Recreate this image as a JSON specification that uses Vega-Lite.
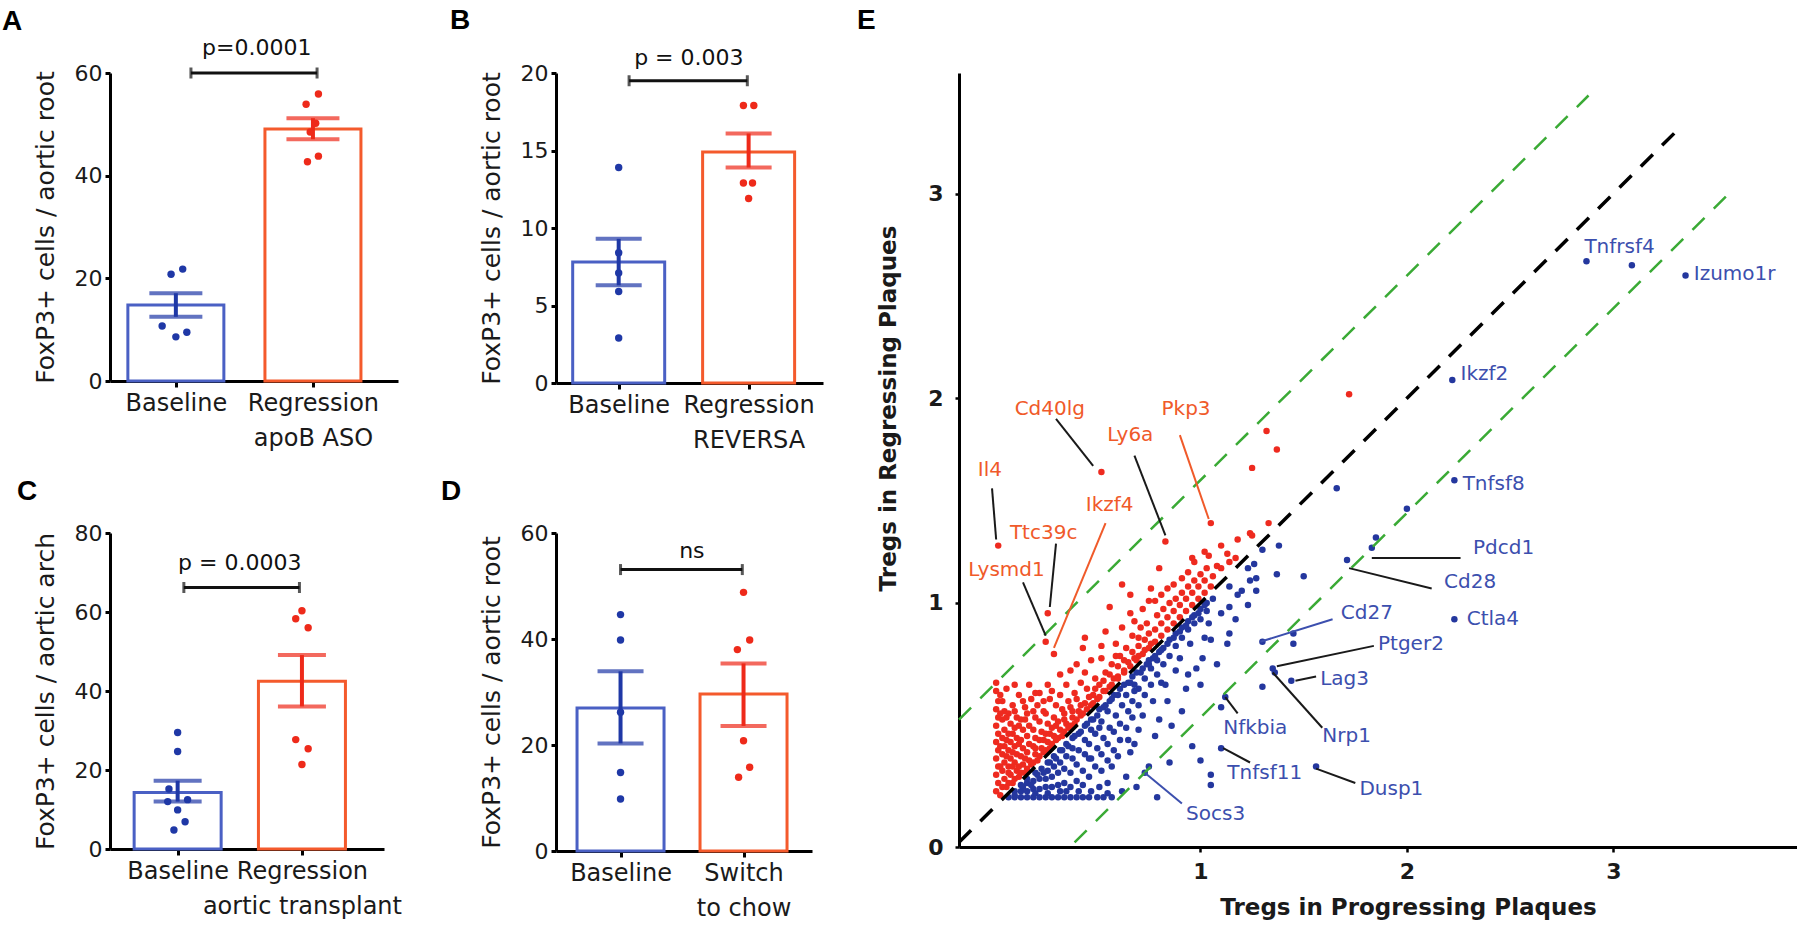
{
"$schema":"https://vega.github.io/schema/vega-lite/v6.json",
"background":"#ffffff",
"padding":{"left":2,"top":6,"right":0,"bottom":0},
"config":{
 "view":{"stroke":null},
 "font":"DejaVu Sans",
 "text":{"font":"DejaVu Sans"},
 "title":{"font":"Liberation Sans","fontSize":28,"fontWeight":"bold","anchor":"start","frame":"group","baseline":"bottom","color":"#000000"},
 "axis":{"domainColor":"#000000","domainWidth":3,"tickColor":"#000000","tickWidth":3,"grid":false,"labelColor":"#1a1a1a","titleColor":"#1a1a1a","labelFont":"DejaVu Sans","titleFont":"DejaVu Sans","titleFontWeight":"normal","labelFontSize":22,"titleFontSize":25},
 "axisX":{"labelFontSize":24,"labelLineHeight":35,"tickSize":6,"labelPadding":4,"labelFlush":false,"labelOverlap":false,"labelBound":false,"labelLimit":0},
 "axisY":{"tickSize":5,"labelPadding":3,"titlePadding":16}
},
"datasets":{
 "red":[{"x":0.01,"y":0.08},{"x":0.02,"y":0.12},{"x":0.01,"y":0.16},{"x":0.02,"y":0.2},{"x":0.01,"y":0.24},{"x":0.02,"y":0.28},{"x":0.01,"y":0.32},{"x":0.02,"y":0.36},{"x":0.01,"y":0.4},{"x":0.02,"y":0.44},{"x":0.01,"y":0.48},{"x":0.02,"y":0.52},{"x":0.01,"y":0.57},{"x":0.01,"y":0.61},
 {"x":0.04,"y":0.1},{"x":0.05,"y":0.14},{"x":0.04,"y":0.18},{"x":0.05,"y":0.22},{"x":0.04,"y":0.26},{"x":0.05,"y":0.3},{"x":0.04,"y":0.34},{"x":0.05,"y":0.38},{"x":0.04,"y":0.43},{"x":0.05,"y":0.47},{"x":0.04,"y":0.52},{"x":0.06,"y":0.58},
 {"x":0.07,"y":0.12},{"x":0.08,"y":0.16},{"x":0.07,"y":0.2},{"x":0.08,"y":0.24},{"x":0.07,"y":0.28},{"x":0.08,"y":0.32},{"x":0.07,"y":0.36},{"x":0.08,"y":0.41},{"x":0.07,"y":0.46},{"x":0.09,"y":0.5},
 {"x":0.1,"y":0.14},{"x":0.11,"y":0.18},{"x":0.1,"y":0.22},{"x":0.11,"y":0.26},{"x":0.1,"y":0.3},{"x":0.11,"y":0.34},{"x":0.1,"y":0.39},{"x":0.11,"y":0.44},{"x":0.12,"y":0.55},{"x":0.1,"y":0.6},
 {"x":0.13,"y":0.17},{"x":0.14,"y":0.21},{"x":0.13,"y":0.25},{"x":0.14,"y":0.29},{"x":0.13,"y":0.33},{"x":0.14,"y":0.38},{"x":0.13,"y":0.43},{"x":0.15,"y":0.49},
 {"x":0.16,"y":0.19},{"x":0.17,"y":0.23},{"x":0.16,"y":0.27},{"x":0.17,"y":0.31},{"x":0.16,"y":0.35},{"x":0.17,"y":0.4},{"x":0.16,"y":0.46},{"x":0.18,"y":0.53},{"x":0.17,"y":0.6},
 {"x":0.19,"y":0.22},{"x":0.2,"y":0.26},{"x":0.19,"y":0.3},{"x":0.2,"y":0.34},{"x":0.19,"y":0.38},{"x":0.2,"y":0.44},{"x":0.21,"y":0.5},
 {"x":0.22,"y":0.25},{"x":0.23,"y":0.29},{"x":0.22,"y":0.33},{"x":0.23,"y":0.37},{"x":0.22,"y":0.42},{"x":0.24,"y":0.47},{"x":0.22,"y":0.56},
 {"x":0.25,"y":0.28},{"x":0.26,"y":0.32},{"x":0.25,"y":0.36},{"x":0.26,"y":0.41},{"x":0.25,"y":0.46},{"x":0.27,"y":0.53},{"x":0.26,"y":0.6},
 {"x":0.28,"y":0.31},{"x":0.29,"y":0.35},{"x":0.28,"y":0.39},{"x":0.29,"y":0.44},{"x":0.3,"y":0.5},{"x":0.28,"y":0.57},
 {"x":0.31,"y":0.34},{"x":0.32,"y":0.38},{"x":0.31,"y":0.42},{"x":0.33,"y":0.48},{"x":0.32,"y":0.55},{"x":0.32,"y":0.65},
 {"x":0.34,"y":0.37},{"x":0.35,"y":0.41},{"x":0.34,"y":0.46},{"x":0.36,"y":0.52},{"x":0.35,"y":0.6},
 {"x":0.37,"y":0.4},{"x":0.38,"y":0.44},{"x":0.37,"y":0.49},{"x":0.39,"y":0.56},{"x":0.37,"y":0.67},
 {"x":0.4,"y":0.43},{"x":0.41,"y":0.47},{"x":0.4,"y":0.53},{"x":0.42,"y":0.61},{"x":0.4,"y":0.7},
 {"x":0.43,"y":0.46},{"x":0.44,"y":0.51},{"x":0.45,"y":0.58},{"x":0.44,"y":0.66},{"x":0.43,"y":0.78},{"x":0.44,"y":0.83},
 {"x":0.47,"y":0.5},{"x":0.48,"y":0.55},{"x":0.49,"y":0.63},{"x":0.47,"y":0.72},
 {"x":0.5,"y":0.53},{"x":0.51,"y":0.6},{"x":0.52,"y":0.73},{"x":0.53,"y":0.57},{"x":0.54,"y":0.66},{"x":0.54,"y":0.86},{"x":0.52,"y":0.79},
 {"x":0.56,"y":0.59},{"x":0.57,"y":0.7},{"x":0.56,"y":0.98},{"x":0.58,"y":0.63},{"x":0.59,"y":0.8},{"x":0.59,"y":0.74},
 {"x":0.6,"y":0.64},{"x":0.61,"y":0.74},{"x":0.62,"y":0.88},{"x":0.62,"y":1.09},{"x":0.63,"y":0.67},{"x":0.64,"y":0.78},{"x":0.65,"y":0.71},{"x":0.66,"y":1.04},{"x":0.66,"y":0.95},{"x":0.67,"y":0.84},{"x":0.68,"y":0.91},{"x":0.68,"y":0.73},
 {"x":0.7,"y":0.74},{"x":0.7,"y":0.79},{"x":0.71,"y":0.88},{"x":0.72,"y":0.97},{"x":0.73,"y":0.77},{"x":0.73,"y":0.82},{"x":0.74,"y":0.9},{"x":0.75,"y":1.01},{"x":0.76,"y":1.07},{"x":0.76,"y":0.8},
 {"x":0.78,"y":0.81},{"x":0.78,"y":0.87},{"x":0.79,"y":0.94},{"x":0.78,"y":1.01},{"x":0.8,"y":1.17},
 {"x":0.81,"y":0.84},{"x":0.81,"y":0.9},{"x":0.82,"y":0.97},{"x":0.81,"y":1.04},
 {"x":0.84,"y":0.87},{"x":0.84,"y":0.93},{"x":0.85,"y":1.0},{"x":0.84,"y":1.07},
 {"x":0.87,"y":0.9},{"x":0.87,"y":0.96},{"x":0.88,"y":1.02},{"x":0.87,"y":1.09},
 {"x":0.9,"y":0.93},{"x":0.9,"y":0.99},{"x":0.91,"y":1.05},{"x":0.91,"y":1.12},
 {"x":0.93,"y":0.96},{"x":0.93,"y":1.02},{"x":0.94,"y":1.08},{"x":0.94,"y":1.15},
 {"x":0.96,"y":0.99},{"x":0.96,"y":1.05},{"x":0.97,"y":1.11},{"x":0.97,"y":1.2},
 {"x":0.99,"y":1.02},{"x":0.99,"y":1.08},{"x":1.0,"y":1.14},
 {"x":1.02,"y":1.05},{"x":1.02,"y":1.11},{"x":1.03,"y":1.17},{"x":1.04,"y":1.23},
 {"x":1.05,"y":1.08},{"x":1.06,"y":1.13},{"x":1.08,"y":1.18},{"x":1.1,"y":1.17},{"x":1.1,"y":1.28},{"x":1.13,"y":1.24},{"x":1.14,"y":1.2},{"x":1.17,"y":1.22},{"x":1.18,"y":1.31},{"x":1.24,"y":1.34},{"x":1.25,"y":1.33},{"x":1.33,"y":1.39},{"x":1.25,"y":1.66},{"x":1.32,"y":1.84},{"x":1.37,"y":1.75},{"x":1.72,"y":2.02},{"x":0.96,"y":1.22},{"x":1.02,"y":1.25},
 {"x":0.06,"y":0.1},{"x":0.09,"y":0.12},{"x":0.12,"y":0.15},{"x":0.15,"y":0.17},{"x":0.18,"y":0.21},{"x":0.21,"y":0.23},{"x":0.24,"y":0.27},{"x":0.27,"y":0.29},{"x":0.3,"y":0.33},{"x":0.33,"y":0.35},{"x":0.36,"y":0.39},{"x":0.39,"y":0.41},{"x":0.42,"y":0.45},{"x":0.45,"y":0.48},{"x":0.48,"y":0.51},{"x":0.51,"y":0.54},{"x":0.54,"y":0.57},{"x":0.57,"y":0.6},{"x":0.6,"y":0.63},{"x":0.63,"y":0.66},{"x":0.66,"y":0.69},{"x":0.69,"y":0.72},{"x":0.72,"y":0.75},{"x":0.75,"y":0.78},
 {"x":0.07,"y":0.17},{"x":0.12,"y":0.2},{"x":0.15,"y":0.24},{"x":0.2,"y":0.29},{"x":0.24,"y":0.33},{"x":0.27,"y":0.36},{"x":0.3,"y":0.4},{"x":0.34,"y":0.43},{"x":0.38,"y":0.47},{"x":0.42,"y":0.5},{"x":0.46,"y":0.54},{"x":0.49,"y":0.58},{"x":0.53,"y":0.62},{"x":0.56,"y":0.65},{"x":0.6,"y":0.69},{"x":0.63,"y":0.72},{"x":0.67,"y":0.76},{"x":0.7,"y":0.83},{"x":0.75,"y":0.85},
 {"x":0.03,"y":0.06},{"x":0.03,"y":0.55},{"x":0.06,"y":0.33},{"x":0.09,"y":0.27},{"x":0.12,"y":0.31},{"x":0.12,"y":0.4},{"x":0.15,"y":0.43},{"x":0.09,"y":0.36},{"x":0.06,"y":0.44},{"x":0.03,"y":0.2},{"x":0.03,"y":0.3},{"x":0.03,"y":0.46},{"x":0.06,"y":0.25},{"x":0.09,"y":0.2},{"x":0.14,"y":0.52},{"x":0.2,"y":0.56},{"x":0.24,"y":0.52},{"x":0.19,"y":0.47},{"x":0.1,"y":0.47},
 {"x":0.02,"y":1.28},{"x":0.52,"y":1.64},{"x":0.26,"y":0.95},{"x":0.25,"y":0.81},{"x":0.29,"y":0.75},{"x":0.83,"y":1.3},{"x":1.05,"y":1.39}],
 "blue":[{"x":0.07,"y":0.05},{"x":0.1,"y":0.05},{"x":0.13,"y":0.05},{"x":0.16,"y":0.05},{"x":0.19,"y":0.05},{"x":0.22,"y":0.05},{"x":0.25,"y":0.05},{"x":0.28,"y":0.05},{"x":0.31,"y":0.05},{"x":0.34,"y":0.05},{"x":0.37,"y":0.05},{"x":0.4,"y":0.05},{"x":0.43,"y":0.05},{"x":0.46,"y":0.05},{"x":0.5,"y":0.05},{"x":0.53,"y":0.05},{"x":0.57,"y":0.05},{"x":0.79,"y":0.05},
 {"x":0.1,"y":0.08},{"x":0.13,"y":0.08},{"x":0.13,"y":0.11},{"x":0.16,"y":0.08},{"x":0.16,"y":0.12},{"x":0.16,"y":0.14},{"x":0.19,"y":0.09},{"x":0.19,"y":0.13},{"x":0.2,"y":0.17},{"x":0.22,"y":0.09},{"x":0.22,"y":0.14},{"x":0.23,"y":0.19},{"x":0.25,"y":0.1},{"x":0.25,"y":0.14},{"x":0.26,"y":0.18},{"x":0.26,"y":0.22},{"x":0.28,"y":0.1},{"x":0.28,"y":0.15},{"x":0.29,"y":0.2},{"x":0.29,"y":0.25},{"x":0.31,"y":0.11},{"x":0.31,"y":0.17},{"x":0.32,"y":0.22},{"x":0.32,"y":0.28},{"x":0.34,"y":0.12},{"x":0.34,"y":0.19},{"x":0.35,"y":0.25},{"x":0.35,"y":0.31},{"x":0.37,"y":0.1},{"x":0.37,"y":0.17},{"x":0.38,"y":0.24},{"x":0.38,"y":0.29},{"x":0.38,"y":0.34},{"x":0.4,"y":0.13},{"x":0.4,"y":0.21},{"x":0.41,"y":0.28},{"x":0.41,"y":0.36},{"x":0.43,"y":0.11},{"x":0.43,"y":0.18},{"x":0.44,"y":0.26},{"x":0.44,"y":0.33},{"x":0.44,"y":0.4},{"x":0.46,"y":0.15},{"x":0.47,"y":0.24},{"x":0.46,"y":0.31},{"x":0.47,"y":0.38},{"x":0.47,"y":0.43},{"x":0.49,"y":0.2},{"x":0.5,"y":0.29},{"x":0.49,"y":0.36},{"x":0.5,"y":0.45},{"x":0.52,"y":0.18},{"x":0.52,"y":0.26},{"x":0.53,"y":0.34},{"x":0.52,"y":0.42},{"x":0.53,"y":0.49},{"x":0.55,"y":0.23},{"x":0.55,"y":0.31},{"x":0.56,"y":0.39},{"x":0.55,"y":0.47},{"x":0.56,"y":0.52},{"x":0.58,"y":0.28},{"x":0.58,"y":0.37},{"x":0.59,"y":0.45},{"x":0.58,"y":0.55},{"x":0.61,"y":0.33},{"x":0.61,"y":0.41},{"x":0.62,"y":0.5},{"x":0.61,"y":0.58},{"x":0.64,"y":0.15},{"x":0.64,"y":0.39},{"x":0.65,"y":0.47},{"x":0.64,"y":0.55},{"x":0.65,"y":0.61},{"x":0.67,"y":0.44},{"x":0.67,"y":0.52},{"x":0.68,"y":0.6},{"x":0.67,"y":0.64},{"x":0.7,"y":0.5},{"x":0.7,"y":0.58},{"x":0.71,"y":0.66},{"x":0.73,"y":0.55},{"x":0.73,"y":0.63},{"x":0.74,"y":0.7},{"x":0.76,"y":0.6},{"x":0.76,"y":0.68},{"x":0.77,"y":0.73},{"x":0.79,"y":0.65},{"x":0.79,"y":0.72},{"x":0.8,"y":0.76},{"x":0.82,"y":0.7},{"x":0.82,"y":0.78},{"x":0.85,"y":0.74},{"x":0.85,"y":0.82},{"x":0.88,"y":0.79},{"x":0.88,"y":0.85},{"x":0.91,"y":0.83},{"x":0.91,"y":0.88},{"x":0.94,"y":0.87},{"x":0.94,"y":0.91},{"x":0.97,"y":0.9},{"x":0.97,"y":0.94},{"x":1.0,"y":0.92},{"x":1.0,"y":0.97},{"x":1.03,"y":0.96},{"x":1.03,"y":1.0},{"x":1.06,"y":1.02},
 {"x":0.1,"y":0.06},{"x":0.14,"y":0.1},{"x":0.18,"y":0.11},{"x":0.21,"y":0.16},{"x":0.24,"y":0.17},{"x":0.27,"y":0.22},{"x":0.3,"y":0.24},{"x":0.33,"y":0.28},{"x":0.36,"y":0.3},{"x":0.39,"y":0.35},{"x":0.42,"y":0.37},{"x":0.45,"y":0.41},{"x":0.48,"y":0.43},{"x":0.51,"y":0.48},{"x":0.54,"y":0.5},{"x":0.57,"y":0.53},{"x":0.6,"y":0.55},{"x":0.63,"y":0.6},{"x":0.66,"y":0.61},{"x":0.69,"y":0.66},{"x":0.72,"y":0.68},{"x":0.75,"y":0.72},{"x":0.78,"y":0.74},{"x":0.81,"y":0.77},{"x":0.84,"y":0.8},{"x":0.87,"y":0.83},{"x":0.9,"y":0.86},{"x":0.93,"y":0.89},{"x":0.96,"y":0.93},{"x":0.99,"y":0.95},{"x":1.02,"y":0.99},
 {"x":0.2,"y":0.07},{"x":0.26,"y":0.07},{"x":0.32,"y":0.08},{"x":0.35,"y":0.08},{"x":0.41,"y":0.08},{"x":0.47,"y":0.08},{"x":0.55,"y":0.07},
 {"x":0.51,"y":0.39},{"x":0.57,"y":0.2},{"x":0.46,"y":0.24},{"x":0.68,"y":0.31},{"x":0.51,"y":0.1},{"x":0.55,"y":0.12},{"x":0.6,"y":0.25},{"x":0.62,"y":0.08},{"x":0.65,"y":0.33},{"x":0.66,"y":0.27},{"x":0.68,"y":0.57},{"x":0.69,"y":0.1},{"x":0.7,"y":0.38},{"x":0.72,"y":0.45},{"x":0.73,"y":0.17},{"x":0.75,"y":0.2},{"x":0.75,"y":0.7},{"x":0.77,"y":0.52},{"x":0.78,"y":0.35},{"x":0.8,"y":0.43},{"x":0.81,"y":0.61},{"x":0.83,"y":0.6},{"x":0.84,"y":0.52},{"x":0.85,"y":0.22},{"x":0.86,"y":0.4},{"x":0.88,"y":0.67},{"x":0.9,"y":0.73},{"x":0.91,"y":0.47},{"x":0.93,"y":0.58},{"x":0.94,"y":0.65},{"x":0.95,"y":0.8},{"x":0.96,"y":0.3},{"x":0.98,"y":0.68},{"x":1.0,"y":0.23},{"x":1.0,"y":0.6},{"x":1.01,"y":0.73},{"x":1.02,"y":0.83},{"x":1.04,"y":0.9},{"x":1.05,"y":0.16},{"x":1.05,"y":0.11},{"x":1.05,"y":0.82},{"x":1.08,"y":0.7},{"x":1.1,"y":0.49},{"x":1.1,"y":0.29},{"x":1.1,"y":0.95},{"x":1.12,"y":0.54},{"x":1.13,"y":0.8},{"x":1.14,"y":0.85},{"x":1.14,"y":0.98},{"x":1.14,"y":1.08},{"x":1.17,"y":0.92},{"x":1.18,"y":1.04},{"x":1.2,"y":1.06},{"x":1.23,"y":0.99},{"x":1.23,"y":1.17},{"x":1.24,"y":1.11},{"x":1.26,"y":1.19},{"x":1.27,"y":1.06},{"x":1.27,"y":1.12},{"x":1.3,"y":1.26},{"x":1.38,"y":1.28},{"x":1.37,"y":1.14},{"x":1.5,"y":1.13},{"x":1.66,"y":1.56},{"x":1.85,"y":1.32},{"x":1.83,"y":1.27},{"x":1.71,"y":1.21},{"x":2.23,"y":0.92},{"x":2.23,"y":1.6},{"x":2.0,"y":1.46},{"x":1.3,"y":0.81},{"x":1.45,"y":0.85},{"x":1.45,"y":0.8},{"x":1.35,"y":0.68},{"x":1.36,"y":0.66},{"x":1.44,"y":0.62},{"x":1.3,"y":0.59},{"x":1.56,"y":0.2},{"x":2.87,"y":2.67},{"x":3.09,"y":2.65},{"x":3.35,"y":2.6},{"x":2.22,"y":2.09}]
},
"concat":[
 {"concat":[
   {"width":288,"height":308,
    "title":{"text":"A","dx":-108,"offset":1},
    "layer":[
     {"data":{"values":[{"g":"Baseline","x":1,"m":14.8,"lo":12.5,"hi":17.1},{"g":"Regression","x":2,"m":49.1,"lo":47.1,"hi":51.2}]},
      "layer":[
       {"mark":{"type":"bar","width":96,"fill":"#ffffff","strokeWidth":3,"orient":"vertical"},
        "encoding":{"x":{"field":"x","type":"quantitative","title":null,"scale":{"domain":[0.556,2.584],"nice":false,"zero":false},"axis":{"values":[1,2],"labelExpr":"datum.value == 1 ? 'Baseline' : ['Regression', 'apoB ASO']"}},
         "y":{"field":"m","type":"quantitative","stack":null,"title":"FoxP3+ cells / aortic root","scale":{"domain":[0,60],"nice":false},"axis":{"values":[0,20,40,60]}},
         "stroke":{"field":"g","type":"nominal","legend":null,"scale":{"domain":["Baseline","Regression"],"range":["#4a60c4","#f45a2c"]}}}},
       {"mark":{"type":"rule","strokeWidth":4},
        "encoding":{"x":{"field":"x","type":"quantitative","title":null},"y":{"field":"lo","type":"quantitative","title":"FoxP3+ cells / aortic root"},"y2":{"field":"hi"},
         "color":{"field":"g","type":"nominal","legend":null,"scale":{"domain":["Baseline","Regression"],"range":["#1f38a6","#ee2a1a"]}}}},
       {"mark":{"type":"tick","orient":"horizontal","size":53,"thickness":4},
        "encoding":{"x":{"field":"x","type":"quantitative","title":null},"y":{"field":"lo","type":"quantitative","title":"FoxP3+ cells / aortic root"},"color":{"field":"g","type":"nominal","legend":null}}},
       {"mark":{"type":"tick","orient":"horizontal","size":53,"thickness":4},
        "encoding":{"x":{"field":"x","type":"quantitative","title":null},"y":{"field":"hi","type":"quantitative","title":"FoxP3+ cells / aortic root"},"color":{"field":"g","type":"nominal","legend":null}}}
      ]},
     {"data":{"values":[{"g":"Baseline","x":0.965,"v":20.8},{"g":"Baseline","x":1.05,"v":21.8},{"g":"Baseline","x":0.9,"v":10.7},{"g":"Baseline","x":1.08,"v":9.5},{"g":"Baseline","x":1.0,"v":8.6},{"g":"Regression","x":2.04,"v":55.9},{"g":"Regression","x":1.95,"v":53.9},{"g":"Regression","x":2.04,"v":43.8},{"g":"Regression","x":1.96,"v":42.7},{"g":"Regression","x":1.98,"v":48.5},{"g":"Regression","x":2.02,"v":50.2}]},
      "mark":{"type":"circle","size":55,"opacity":1},
      "encoding":{"x":{"field":"x","type":"quantitative","title":null},"y":{"field":"v","type":"quantitative","title":"FoxP3+ cells / aortic root"},"color":{"field":"g","type":"nominal","legend":null}}},
     {"data":{"values":[{"x1":1.11,"x2":2.03,"y":60,"tx":1.59,"ty":64.9,"t":"p=0.0001"}]},
      "layer":[
       {"mark":{"type":"rule","strokeWidth":3,"color":"#111111"},"encoding":{"x":{"field":"x1","type":"quantitative","title":null},"x2":{"field":"x2"},"y":{"field":"y","type":"quantitative","title":"FoxP3+ cells / aortic root"}}},
       {"mark":{"type":"tick","orient":"vertical","size":11,"thickness":3,"color":"#111111"},"encoding":{"x":{"field":"x1","type":"quantitative","title":null},"y":{"field":"y","type":"quantitative","title":"FoxP3+ cells / aortic root"}}},
       {"mark":{"type":"tick","orient":"vertical","size":11,"thickness":3,"color":"#111111"},"encoding":{"x":{"field":"x2","type":"quantitative","title":null},"y":{"field":"y","type":"quantitative","title":"FoxP3+ cells / aortic root"}}},
       {"mark":{"type":"text","fontSize":22,"color":"#111111","baseline":"middle"},"encoding":{"x":{"field":"tx","type":"quantitative","title":null},"y":{"field":"ty","type":"quantitative","title":"FoxP3+ cells / aortic root"},"text":{"field":"t"}}}
      ]}
    ]},
   {"width":267,"height":310,
    "title":{"text":"B","dx":-106,"offset":12},
    "layer":[
     {"data":{"values":[{"g":"Baseline","x":1,"m":7.8,"lo":6.3,"hi":9.3},{"g":"Regression","x":2,"m":14.9,"lo":13.9,"hi":16.1}]},
      "layer":[
       {"mark":{"type":"bar","width":92,"fill":"#ffffff","strokeWidth":3,"orient":"vertical"},
        "encoding":{"x":{"field":"x","type":"quantitative","title":null,"scale":{"domain":[0.556,2.534],"nice":false,"zero":false},"axis":{"values":[1,2],"labelExpr":"datum.value == 1 ? 'Baseline' : ['Regression', 'REVERSA']"}},
         "y":{"field":"m","type":"quantitative","stack":null,"title":"FoxP3+ cells / aortic root","scale":{"domain":[0,20],"nice":false},"axis":{"values":[0,5,10,15,20]}},
         "stroke":{"field":"g","type":"nominal","legend":null,"scale":{"domain":["Baseline","Regression"],"range":["#4a60c4","#f45a2c"]}}}},
       {"mark":{"type":"rule","strokeWidth":4},
        "encoding":{"x":{"field":"x","type":"quantitative","title":null},"y":{"field":"lo","type":"quantitative","title":"FoxP3+ cells / aortic root"},"y2":{"field":"hi"},
         "color":{"field":"g","type":"nominal","legend":null,"scale":{"domain":["Baseline","Regression"],"range":["#1f38a6","#ee2a1a"]}}}},
       {"mark":{"type":"tick","orient":"horizontal","size":46,"thickness":4},
        "encoding":{"x":{"field":"x","type":"quantitative","title":null},"y":{"field":"lo","type":"quantitative","title":"FoxP3+ cells / aortic root"},"color":{"field":"g","type":"nominal","legend":null}}},
       {"mark":{"type":"tick","orient":"horizontal","size":46,"thickness":4},
        "encoding":{"x":{"field":"x","type":"quantitative","title":null},"y":{"field":"hi","type":"quantitative","title":"FoxP3+ cells / aortic root"},"color":{"field":"g","type":"nominal","legend":null}}}
      ]},
     {"data":{"values":[{"g":"Baseline","x":1,"v":13.9},{"g":"Baseline","x":1,"v":2.9},{"g":"Baseline","x":1,"v":8.4},{"g":"Baseline","x":1,"v":7.1},{"g":"Baseline","x":1,"v":5.9},{"g":"Regression","x":1.96,"v":17.9},{"g":"Regression","x":2.04,"v":17.9},{"g":"Regression","x":1.96,"v":12.9},{"g":"Regression","x":2.03,"v":12.9},{"g":"Regression","x":2.0,"v":11.9}]},
      "mark":{"type":"circle","size":55,"opacity":1},
      "encoding":{"x":{"field":"x","type":"quantitative","title":null},"y":{"field":"v","type":"quantitative","title":"FoxP3+ cells / aortic root"},"color":{"field":"g","type":"nominal","legend":null}}},
     {"data":{"values":[{"x1":1.08,"x2":1.99,"y":19.5,"tx":1.54,"ty":21.0,"t":"p = 0.003"}]},
      "layer":[
       {"mark":{"type":"rule","strokeWidth":3,"color":"#111111"},"encoding":{"x":{"field":"x1","type":"quantitative","title":null},"x2":{"field":"x2"},"y":{"field":"y","type":"quantitative","title":"FoxP3+ cells / aortic root"}}},
       {"mark":{"type":"tick","orient":"vertical","size":11,"thickness":3,"color":"#111111"},"encoding":{"x":{"field":"x1","type":"quantitative","title":null},"y":{"field":"y","type":"quantitative","title":"FoxP3+ cells / aortic root"}}},
       {"mark":{"type":"tick","orient":"vertical","size":11,"thickness":3,"color":"#111111"},"encoding":{"x":{"field":"x2","type":"quantitative","title":null},"y":{"field":"y","type":"quantitative","title":"FoxP3+ cells / aortic root"}}},
       {"mark":{"type":"text","fontSize":22,"color":"#111111","baseline":"middle"},"encoding":{"x":{"field":"tx","type":"quantitative","title":null},"y":{"field":"ty","type":"quantitative","title":"FoxP3+ cells / aortic root"},"text":{"field":"t"}}}
      ]}
    ]},
   {"width":274,"height":316,
    "title":{"text":"C","dx":-93,"offset":16},
    "layer":[
     {"data":{"values":[{"g":"Baseline","x":1,"m":14.3,"lo":12.0,"hi":17.3},{"g":"Regression","x":2,"m":42.5,"lo":36.1,"hi":49.1}]},
      "layer":[
       {"mark":{"type":"bar","width":87,"fill":"#ffffff","strokeWidth":3,"orient":"vertical"},
        "encoding":{"x":{"field":"x","type":"quantitative","title":null,"scale":{"domain":[0.496,2.62],"nice":false,"zero":false},"axis":{"values":[1,2],"labelExpr":"datum.value == 1 ? 'Baseline' : ['Regression', 'aortic transplant']"}},
         "y":{"field":"m","type":"quantitative","stack":null,"title":"FoxP3+ cells / aortic arch","scale":{"domain":[0,80],"nice":false},"axis":{"values":[0,20,40,60,80]}},
         "stroke":{"field":"g","type":"nominal","legend":null,"scale":{"domain":["Baseline","Regression"],"range":["#4a60c4","#f45a2c"]}}}},
       {"mark":{"type":"rule","strokeWidth":4},
        "encoding":{"x":{"field":"x","type":"quantitative","title":null},"y":{"field":"lo","type":"quantitative","title":"FoxP3+ cells / aortic arch"},"y2":{"field":"hi"},
         "color":{"field":"g","type":"nominal","legend":null,"scale":{"domain":["Baseline","Regression"],"range":["#1f38a6","#ee2a1a"]}}}},
       {"mark":{"type":"tick","orient":"horizontal","size":48,"thickness":4},
        "encoding":{"x":{"field":"x","type":"quantitative","title":null},"y":{"field":"lo","type":"quantitative","title":"FoxP3+ cells / aortic arch"},"color":{"field":"g","type":"nominal","legend":null}}},
       {"mark":{"type":"tick","orient":"horizontal","size":48,"thickness":4},
        "encoding":{"x":{"field":"x","type":"quantitative","title":null},"y":{"field":"hi","type":"quantitative","title":"FoxP3+ cells / aortic arch"},"color":{"field":"g","type":"nominal","legend":null}}}
      ]},
     {"data":{"values":[{"g":"Baseline","x":1.0,"v":29.5},{"g":"Baseline","x":1.0,"v":24.7},{"g":"Baseline","x":0.97,"v":4.8},{"g":"Baseline","x":1.06,"v":6.9},{"g":"Baseline","x":1.0,"v":9.9},{"g":"Baseline","x":0.92,"v":12.0},{"g":"Baseline","x":1.08,"v":12.5},{"g":"Baseline","x":0.93,"v":15.2},{"g":"Regression","x":2.0,"v":60.3},{"g":"Regression","x":1.95,"v":58.3},{"g":"Regression","x":2.05,"v":56.0},{"g":"Regression","x":1.95,"v":27.7},{"g":"Regression","x":2.05,"v":25.4},{"g":"Regression","x":2.0,"v":21.4}]},
      "mark":{"type":"circle","size":55,"opacity":1},
      "encoding":{"x":{"field":"x","type":"quantitative","title":null},"y":{"field":"v","type":"quantitative","title":"FoxP3+ cells / aortic arch"},"color":{"field":"g","type":"nominal","legend":null}}},
     {"data":{"values":[{"x1":1.05,"x2":1.98,"y":66.2,"tx":1.5,"ty":72.5,"t":"p = 0.0003"}]},
      "layer":[
       {"mark":{"type":"rule","strokeWidth":3,"color":"#111111"},"encoding":{"x":{"field":"x1","type":"quantitative","title":null},"x2":{"field":"x2"},"y":{"field":"y","type":"quantitative","title":"FoxP3+ cells / aortic arch"}}},
       {"mark":{"type":"tick","orient":"vertical","size":11,"thickness":3,"color":"#111111"},"encoding":{"x":{"field":"x1","type":"quantitative","title":null},"y":{"field":"y","type":"quantitative","title":"FoxP3+ cells / aortic arch"}}},
       {"mark":{"type":"tick","orient":"vertical","size":11,"thickness":3,"color":"#111111"},"encoding":{"x":{"field":"x2","type":"quantitative","title":null},"y":{"field":"y","type":"quantitative","title":"FoxP3+ cells / aortic arch"}}},
       {"mark":{"type":"text","fontSize":22,"color":"#111111","baseline":"middle"},"encoding":{"x":{"field":"tx","type":"quantitative","title":null},"y":{"field":"ty","type":"quantitative","title":"FoxP3+ cells / aortic arch"},"text":{"field":"t"}}}
      ]}
    ]},
   {"width":256,"height":318,
    "title":{"text":"D","dx":-115,"offset":16},
    "layer":[
     {"data":{"values":[{"g":"Baseline","x":1,"m":27.0,"lo":20.3,"hi":33.9},{"g":"Switch","x":2,"m":29.6,"lo":23.6,"hi":35.4}]},
      "layer":[
       {"mark":{"type":"bar","width":87,"fill":"#ffffff","strokeWidth":3,"orient":"vertical"},
        "encoding":{"x":{"field":"x","type":"quantitative","title":null,"scale":{"domain":[0.516,2.516],"nice":false,"zero":false},"axis":{"values":[1,2],"labelExpr":"datum.value == 1 ? 'Baseline' : ['Switch', 'to chow']"}},
         "y":{"field":"m","type":"quantitative","stack":null,"title":"FoxP3+ cells / aortic root","scale":{"domain":[0,60],"nice":false},"axis":{"values":[0,20,40,60]}},
         "stroke":{"field":"g","type":"nominal","legend":null,"scale":{"domain":["Baseline","Switch"],"range":["#4a60c4","#f45a2c"]}}}},
       {"mark":{"type":"rule","strokeWidth":4},
        "encoding":{"x":{"field":"x","type":"quantitative","title":null},"y":{"field":"lo","type":"quantitative","title":"FoxP3+ cells / aortic root"},"y2":{"field":"hi"},
         "color":{"field":"g","type":"nominal","legend":null,"scale":{"domain":["Baseline","Switch"],"range":["#1f38a6","#ee2a1a"]}}}},
       {"mark":{"type":"tick","orient":"horizontal","size":46,"thickness":4},
        "encoding":{"x":{"field":"x","type":"quantitative","title":null},"y":{"field":"lo","type":"quantitative","title":"FoxP3+ cells / aortic root"},"color":{"field":"g","type":"nominal","legend":null}}},
       {"mark":{"type":"tick","orient":"horizontal","size":46,"thickness":4},
        "encoding":{"x":{"field":"x","type":"quantitative","title":null},"y":{"field":"hi","type":"quantitative","title":"FoxP3+ cells / aortic root"},"color":{"field":"g","type":"nominal","legend":null}}}
      ]},
     {"data":{"values":[{"g":"Baseline","x":1,"v":44.6},{"g":"Baseline","x":1,"v":39.8},{"g":"Baseline","x":1,"v":14.8},{"g":"Baseline","x":1,"v":9.8},{"g":"Baseline","x":1,"v":26.2},{"g":"Switch","x":2.0,"v":48.8},{"g":"Switch","x":2.05,"v":39.8},{"g":"Switch","x":1.95,"v":38.0},{"g":"Switch","x":2.0,"v":20.8},{"g":"Switch","x":2.05,"v":15.8},{"g":"Switch","x":1.96,"v":13.9}]},
      "mark":{"type":"circle","size":55,"opacity":1},
      "encoding":{"x":{"field":"x","type":"quantitative","title":null},"y":{"field":"v","type":"quantitative","title":"FoxP3+ cells / aortic root"},"color":{"field":"g","type":"nominal","legend":null}}},
     {"data":{"values":[{"x1":1.0,"x2":1.99,"y":53.1,"tx":1.58,"ty":56.6,"t":"ns"}]},
      "layer":[
       {"mark":{"type":"rule","strokeWidth":3,"color":"#111111"},"encoding":{"x":{"field":"x1","type":"quantitative","title":null},"x2":{"field":"x2"},"y":{"field":"y","type":"quantitative","title":"FoxP3+ cells / aortic root"}}},
       {"mark":{"type":"tick","orient":"vertical","size":11,"thickness":3,"color":"#111111"},"encoding":{"x":{"field":"x1","type":"quantitative","title":null},"y":{"field":"y","type":"quantitative","title":"FoxP3+ cells / aortic root"}}},
       {"mark":{"type":"tick","orient":"vertical","size":11,"thickness":3,"color":"#111111"},"encoding":{"x":{"field":"x2","type":"quantitative","title":null},"y":{"field":"y","type":"quantitative","title":"FoxP3+ cells / aortic root"}}},
       {"mark":{"type":"text","fontSize":22,"color":"#111111","baseline":"middle"},"encoding":{"x":{"field":"tx","type":"quantitative","title":null},"y":{"field":"ty","type":"quantitative","title":"FoxP3+ cells / aortic root"},"text":{"field":"t"}}}
      ]}
    ]}
  ],
  "columns":2,
  "spacing":{"row":150,"column":158},
  "bounds":"flush",
  "resolve":{"scale":{"color":"independent","stroke":"independent"}}},
 {"width":838,"height":774,
  "title":{"text":"E","dx":-102,"offset":38},
  "layer":[
   {"data":{"name":"red"},"mark":{"type":"circle","size":42,"opacity":1,"color":"#ee2a1f"},
    "encoding":{"x":{"field":"x","type":"quantitative","title":"Tregs in Progressing Plaques","scale":{"domain":[-0.17,3.89],"nice":false,"zero":false},
      "axis":{"values":[1,2,3],"labelExpr":"format(datum.value, 'd')","titleX":449,"titlePadding":14,"titleFontSize":23,"titleFontWeight":"bold","labelFontSize":22,"labelFontWeight":"bold","tickSize":5,"labelPadding":9,"tickWidth":2.5,"domainWidth":3}},
     "y":{"field":"y","type":"quantitative","title":"Tregs in Regressing Plaques","scale":{"domain":[-0.193,3.59],"nice":false,"zero":false},
      "axis":{"values":[-0.193,1,2,3],"labelExpr":"datum.value < 0 ? '0' : format(datum.value, 'd')","titleY":335,"titlePadding":27,"titleFontSize":23,"titleFontWeight":"bold","labelFontSize":22,"labelFontWeight":"bold","tickSize":4,"labelPadding":12,"tickWidth":2.5,"domainWidth":3}}}},
   {"data":{"name":"blue"},"mark":{"type":"circle","size":42,"opacity":1,"color":"#24379e"},
    "encoding":{"x":{"field":"x","type":"quantitative","title":"Tregs in Progressing Plaques"},"y":{"field":"y","type":"quantitative","title":"Tregs in Regressing Plaques"}}},
   {"data":{"values":[{"k":"upper","x":-0.17,"y":0.43},{"k":"upper","x":2.88,"y":3.48},{"k":"lower","x":0.39,"y":-0.17},{"k":"lower","x":3.58,"y":3.02}]},
    "mark":{"type":"line","color":"#3aaa35","strokeWidth":2.5,"strokeDash":[17,13]},
    "encoding":{"x":{"field":"x","type":"quantitative","title":"Tregs in Progressing Plaques"},"y":{"field":"y","type":"quantitative","title":"Tregs in Regressing Plaques"},"detail":{"field":"k"}}},
   {"data":{"values":[{"x":-0.17,"y":-0.17},{"x":3.33,"y":3.33}]},
    "mark":{"type":"line","color":"#000000","strokeWidth":3.5,"strokeDash":[17,13]},
    "encoding":{"x":{"field":"x","type":"quantitative","title":"Tregs in Progressing Plaques"},"y":{"field":"y","type":"quantitative","title":"Tregs in Regressing Plaques"}}},
   {"data":{"values":[
     {"c":"k","x":-0.01,"y":1.56,"x2":0.01,"y2":1.31},
     {"c":"k","x":0.3,"y":1.9,"x2":0.48,"y2":1.67},
     {"c":"k","x":0.3,"y":1.29,"x2":0.27,"y2":0.98},
     {"c":"k","x":0.14,"y":1.1,"x2":0.25,"y2":0.84},
     {"c":"r","x":0.54,"y":1.39,"x2":0.29,"y2":0.78},
     {"c":"k","x":0.68,"y":1.72,"x2":0.83,"y2":1.33},
     {"c":"r","x":0.9,"y":1.82,"x2":1.04,"y2":1.41},
     {"c":"k","x":1.83,"y":1.22,"x2":2.26,"y2":1.22},
     {"c":"k","x":1.72,"y":1.17,"x2":2.12,"y2":1.07},
     {"c":"b","x":1.29,"y":0.81,"x2":1.64,"y2":0.92},
     {"c":"k","x":1.37,"y":0.69,"x2":1.84,"y2":0.79},
     {"c":"k","x":1.35,"y":0.66,"x2":1.59,"y2":0.39},
     {"c":"k","x":1.46,"y":0.62,"x2":1.56,"y2":0.64},
     {"c":"k","x":1.12,"y":0.54,"x2":1.18,"y2":0.46},
     {"c":"k","x":1.11,"y":0.29,"x2":1.24,"y2":0.22},
     {"c":"k","x":1.56,"y":0.19,"x2":1.75,"y2":0.12},
     {"c":"b","x":0.73,"y":0.17,"x2":0.91,"y2":0.02}]},
    "mark":{"type":"rule","strokeWidth":2},
    "encoding":{"x":{"field":"x","type":"quantitative","title":"Tregs in Progressing Plaques"},"y":{"field":"y","type":"quantitative","title":"Tregs in Regressing Plaques"},"x2":{"field":"x2"},"y2":{"field":"y2"},
     "color":{"field":"c","type":"nominal","legend":null,"scale":{"domain":["k","r","b"],"range":["#1a1a1a","#f05a2a","#3c4fae"]}}}},
   {"data":{"values":[{"t":"Il4","x":-0.02,"y":1.65},{"t":"Cd40lg","x":0.27,"y":1.95},{"t":"Ttc39c","x":0.24,"y":1.34},{"t":"Lysmd1","x":0.06,"y":1.16},{"t":"Ikzf4","x":0.56,"y":1.48},{"t":"Ly6a","x":0.66,"y":1.82},{"t":"Pkp3","x":0.93,"y":1.95}]},
    "mark":{"type":"text","fontSize":20,"color":"#f05a2a","align":"center","baseline":"middle"},
    "encoding":{"x":{"field":"x","type":"quantitative","title":"Tregs in Progressing Plaques"},"y":{"field":"y","type":"quantitative","title":"Tregs in Regressing Plaques"},"text":{"field":"t"}}},
   {"data":{"values":[{"t":"Tnfrsf4","x":2.86,"y":2.74},{"t":"Izumo1r","x":3.39,"y":2.61},{"t":"Ikzf2","x":2.26,"y":2.12},{"t":"Tnfsf8","x":2.27,"y":1.58},{"t":"Pdcd1","x":2.32,"y":1.27},{"t":"Cd28","x":2.18,"y":1.1},{"t":"Ctla4","x":2.29,"y":0.92},{"t":"Cd27","x":1.68,"y":0.95},{"t":"Ptger2","x":1.86,"y":0.8},{"t":"Lag3","x":1.58,"y":0.63},{"t":"Nrp1","x":1.59,"y":0.35},{"t":"Nfkbia","x":1.11,"y":0.39},{"t":"Tnfsf11","x":1.13,"y":0.17},{"t":"Dusp1","x":1.77,"y":0.09},{"t":"Socs3","x":0.93,"y":-0.03}]},
    "mark":{"type":"text","fontSize":20,"color":"#3c4fae","align":"left","baseline":"middle"},
    "encoding":{"x":{"field":"x","type":"quantitative","title":"Tregs in Progressing Plaques"},"y":{"field":"y","type":"quantitative","title":"Tregs in Regressing Plaques"},"text":{"field":"t"}}}
  ]}
],
"columns":2,
"align":"none",
"spacing":34,
"resolve":{"scale":{"color":"independent","stroke":"independent"}}
}
